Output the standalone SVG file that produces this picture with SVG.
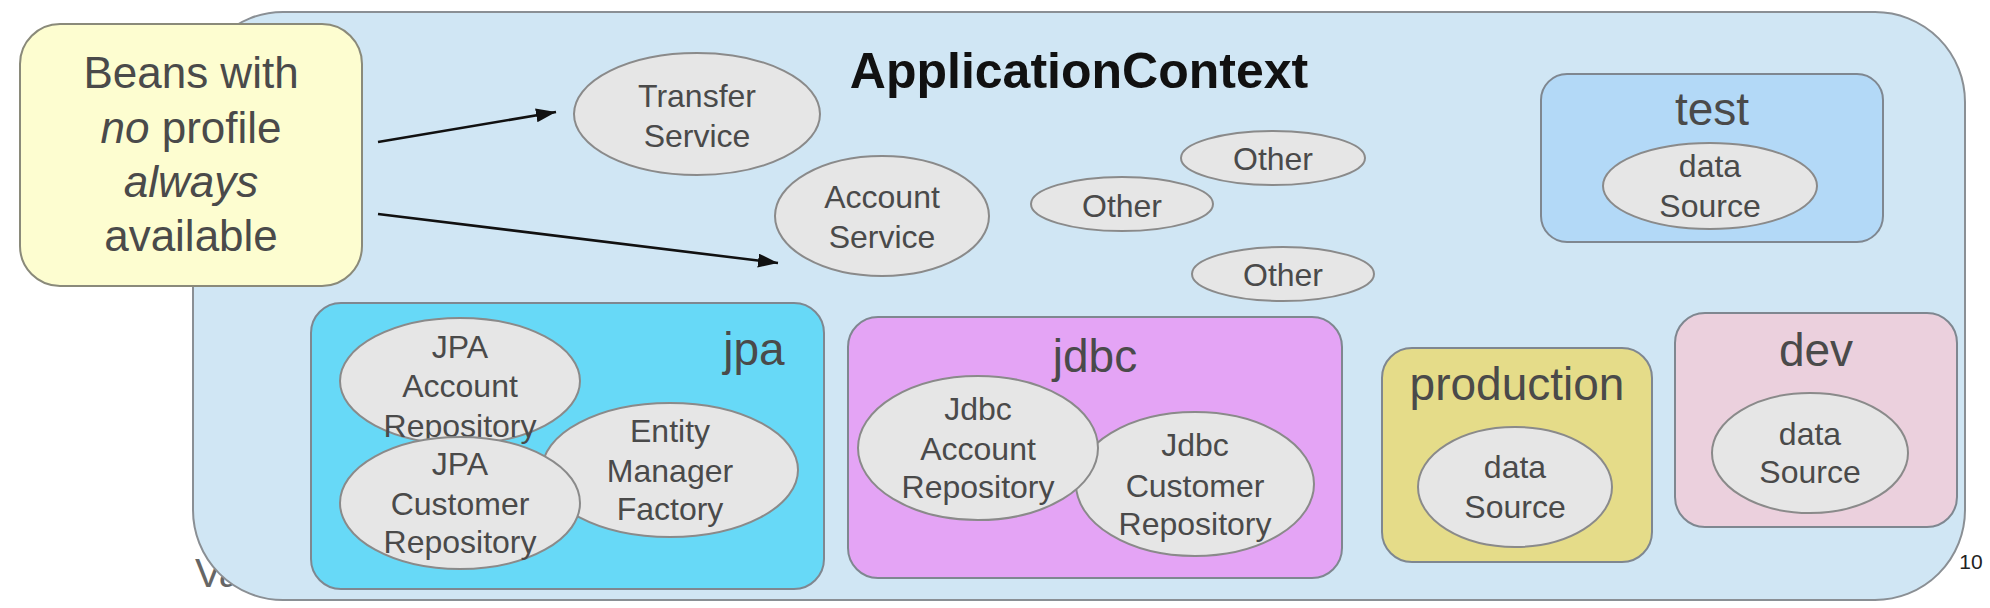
<svg xmlns="http://www.w3.org/2000/svg" width="1990" height="608" viewBox="0 0 1990 608">
<defs>
<style>
text{font-family:"Liberation Sans",Arial,sans-serif;fill:#4a4a4a;text-anchor:middle}
.bean{fill:#e6e6e6;stroke:#8a8a8a;stroke-width:2}
.box{stroke:#7f8790;stroke-width:2}
.t32{font-size:32px}
.lbl{font-size:46px}
.note{font-size:44px}
.conn{stroke:#111;stroke-width:2.6;fill:none}
</style>
<marker id="arr" markerWidth="10" markerHeight="8" refX="9" refY="4" orient="auto" markerUnits="userSpaceOnUse" viewBox="0 0 10 8">
<path d="M0,0 L10,4 L0,8 z" fill="#111"/>
</marker>
<marker id="arrow" viewBox="0 0 20 14" refX="20" refY="7" markerWidth="20" markerHeight="14" orient="auto" markerUnits="userSpaceOnUse">
<path d="M0,0 L20,7 L0,14 z" fill="#111"/>
</marker>
</defs>
<rect width="1990" height="608" fill="#ffffff"/>
<text x="195" y="587" style="font-size:40px;text-anchor:start;fill:#666">Va</text>
<g id="applicationContext">
<rect x="193" y="12" width="1772" height="588" rx="90" ry="90" fill="#d0e6f4" stroke="#8a8f94" stroke-width="2"/>
<text x="1079" y="88" style="font-size:50px;font-weight:bold;fill:#111">ApplicationContext</text>
</g>
<g id="note">
<rect x="20" y="24" width="342" height="262" rx="40" ry="40" fill="#fdfdd0" stroke="#8a8a7a" stroke-width="2"/>
<text class="note" x="191" y="88">Beans with</text>
<text class="note" x="191" y="143"><tspan font-style="italic">no</tspan> profile</text>
<text class="note" x="191" y="197" font-style="italic">always</text>
<text class="note" x="191" y="251">available</text>
</g>
<g id="transferService">
<ellipse class="bean" cx="697" cy="114" rx="123" ry="61"/>
<text class="t32" x="697" y="107">Transfer</text>
<text class="t32" x="697" y="147">Service</text>
</g>
<g id="accountService">
<ellipse class="bean" cx="882" cy="216" rx="107" ry="60"/>
<text class="t32" x="882" y="208">Account</text>
<text class="t32" x="882" y="248">Service</text>
</g>
<g id="other1">
<ellipse class="bean" cx="1273" cy="158" rx="92" ry="27"/>
<text class="t32" x="1273" y="170">Other</text>
</g>
<g id="other2">
<ellipse class="bean" cx="1122" cy="204" rx="91" ry="27"/>
<text class="t32" x="1122" y="217">Other</text>
</g>
<g id="other3">
<ellipse class="bean" cx="1283" cy="274" rx="91" ry="27"/>
<text class="t32" x="1283" y="286">Other</text>
</g>
<g id="test">
<rect class="box" x="1541" y="74" width="342" height="168" rx="26" ry="26" fill="#b3d9f7"/>
<text class="lbl" x="1712" y="125">test</text>
<ellipse class="bean" cx="1710" cy="186" rx="107" ry="43"/>
<text class="t32" x="1710" y="177">data</text>
<text class="t32" x="1710" y="217">Source</text>
</g>
<g id="jpa">
<rect class="box" x="311" y="303" width="513" height="286" rx="30" ry="30" fill="#67d9f7"/>
<text class="lbl" x="754" y="365">jpa</text>
<g id="jpaAccountRepository">
<ellipse class="bean" cx="460" cy="381" rx="120" ry="63"/>
<text class="t32" x="460" y="358">JPA</text>
<text class="t32" x="460" y="397">Account</text>
<text class="t32" x="460" y="437">Repository</text>
</g>
<g id="entityManagerFactory">
<ellipse class="bean" cx="670" cy="470" rx="128" ry="67"/>
<text class="t32" x="670" y="442">Entity</text>
<text class="t32" x="670" y="482">Manager</text>
<text class="t32" x="670" y="520">Factory</text>
</g>
<g id="jpaCustomerRepository">
<ellipse class="bean" cx="460" cy="503" rx="120" ry="66"/>
<text class="t32" x="460" y="475">JPA</text>
<text class="t32" x="460" y="515">Customer</text>
<text class="t32" x="460" y="553">Repository</text>
</g>
</g>
<g id="jdbc">
<rect class="box" x="848" y="317" width="494" height="261" rx="30" ry="30" fill="#e4a4f5"/>
<text class="lbl" x="1095" y="372">jdbc</text>
<g id="jdbcCustomerRepository">
<ellipse class="bean" cx="1195" cy="484" rx="119" ry="72"/>
<text class="t32" x="1195" y="456">Jdbc</text>
<text class="t32" x="1195" y="497">Customer</text>
<text class="t32" x="1195" y="535">Repository</text>
</g>
<g id="jdbcAccountRepository">
<ellipse class="bean" cx="978" cy="448" rx="120" ry="72"/>
<text class="t32" x="978" y="420">Jdbc</text>
<text class="t32" x="978" y="460">Account</text>
<text class="t32" x="978" y="498">Repository</text>
</g>
</g>
<g id="production">
<rect class="box" x="1382" y="348" width="270" height="214" rx="30" ry="30" fill="#e5dc89"/>
<text class="lbl" x="1517" y="400">production</text>
<ellipse class="bean" cx="1515" cy="487" rx="97" ry="60"/>
<text class="t32" x="1515" y="478">data</text>
<text class="t32" x="1515" y="518">Source</text>
</g>
<g id="dev">
<rect class="box" x="1675" y="313" width="282" height="214" rx="30" ry="30" fill="#ebd0dd"/>
<text class="lbl" x="1816" y="366">dev</text>
<ellipse class="bean" cx="1810" cy="453" rx="98" ry="60"/>
<text class="t32" x="1810" y="445">data</text>
<text class="t32" x="1810" y="483">Source</text>
</g>
<g id="connectors">
<line class="conn" x1="378" y1="142" x2="556" y2="112" marker-end="url(#arrow)"/>
<line class="conn" x1="378" y1="214" x2="778" y2="263" marker-end="url(#arrow)"/>
</g>
<text x="1971" y="569" style="font-size:21px;fill:#222">10</text>
</svg>
